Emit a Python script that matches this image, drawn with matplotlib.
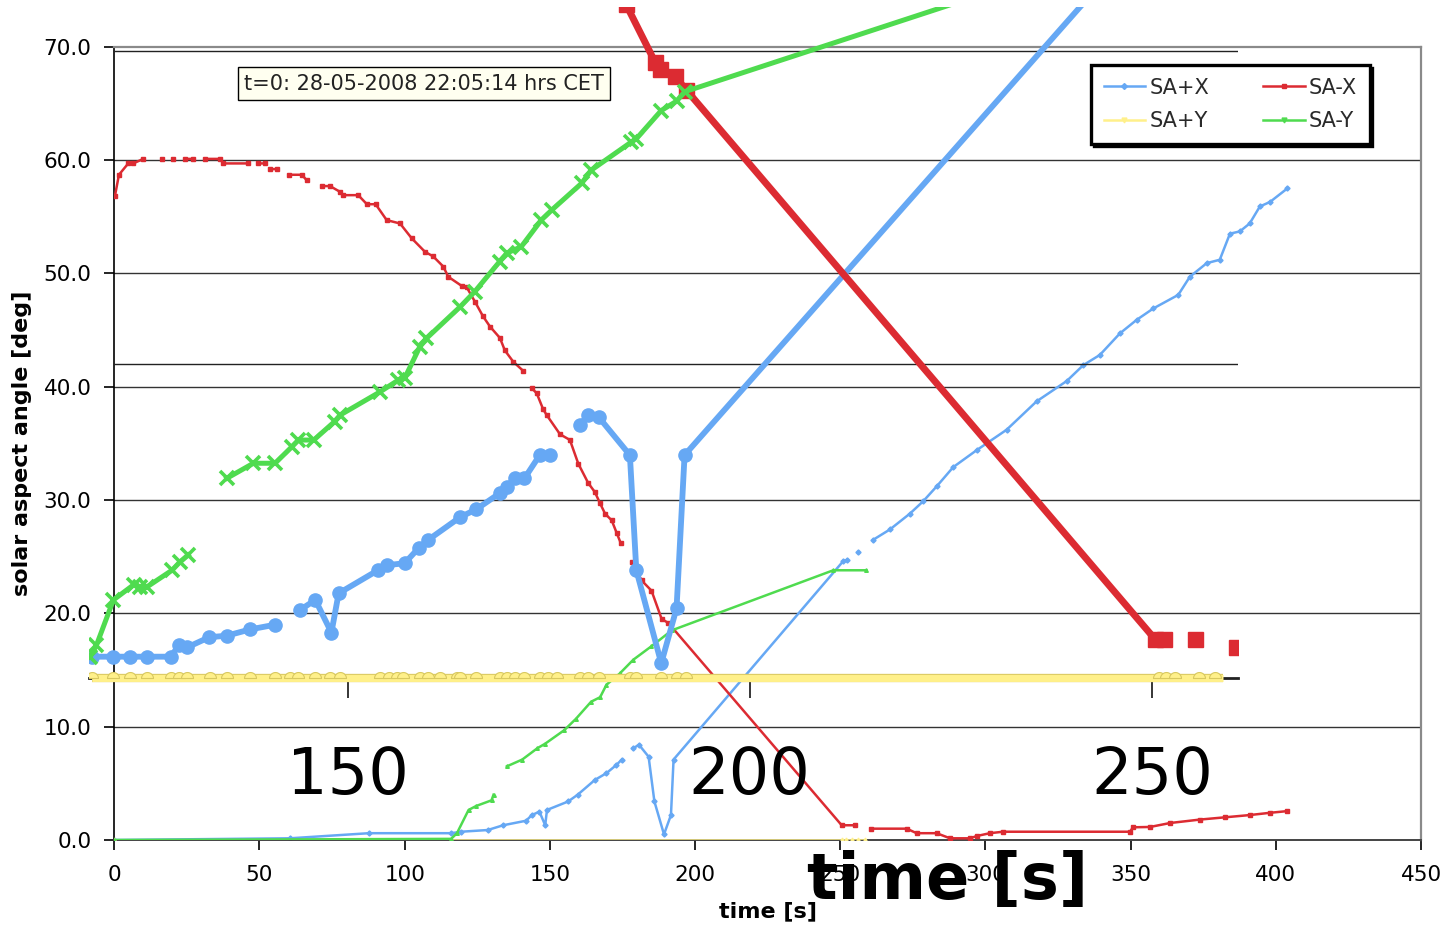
import numpy as np
import matplotlib
matplotlib.use("Agg")
import matplotlib.pyplot as plt
from matplotlib.lines import Line2D
from matplotlib.path import Path
import matplotlib.patheffects as pe

nan = np.nan

# ---------------- main chart data: time [s] vs solar aspect angle [deg] ----------------
sapx_t = [0, 60.5, 87.7, 116, 119.4, 128.6, 133.9, 141.8, 143.8, 146.4, 148.4, 149, 156.3, 159.6,
          165.5, 169.5, 172.8, 174.8, nan, 178.7, 180.7, 184, 186, 189.3, 191.7, 192.6, 251, 252.2,
          nan, 256.2, nan, 261.4, 267.1, 274, 278.6, 283.2, 288.9, 297, 307.3, 317.6, 328, 333.7,
          339.4, 346.3, 352.1, 357.8, 366.4, 370.4, 376.2, 380.7, 384.2, 387.6, 391, 394.5, 398, 404]
sapx_v = [0, 0.15, 0.6, 0.6, 0.73, 0.88, 1.3, 1.7, 2.2, 2.5, 1.3, 2.65, 3.4, 4.0,
          5.3, 5.9, 6.6, 7.1, nan, 8.1, 8.4, 7.35, 3.4, 0.5, 2.2, 7.1, 24.6, 24.7,
          nan, 25.4, nan, 26.5, 27.4, 28.8, 29.9, 31.2, 32.9, 34.4, 36.2, 38.7, 40.5, 41.9,
          42.8, 44.7, 45.9, 46.9, 48.1, 49.7, 50.9, 51.2, 53.5, 53.7, 54.4, 55.9, 56.3, 57.5]

samx_t = [0.2, 1.6, 4.8, 6.5, 10, nan, 16.3, nan, 20.3, nan, 24.4, 27, nan, 31.2, 36.4, nan,
          37.5, 45.9, nan, 49.5, 52, nan, 53.7, 56, nan, 60, 64.6, 66.3, nan, 71.5, 74.3, 77.7,
          78.8, 84, 87, 90, 93.8, 98.4, 102.4, 107, 109.8, 113.3, 115, 119.6, 121.3, 124.2, 127,
          129.4, 132.8, 134.5, 137.4, 140.8, nan, 143.7, 145.5, 147.7, 148.9, 153.5, 156.9, 159.8,
          163.2, 165.5, 167.3, 169, 171.3, 173, 174.4, nan, 178.4, 181.6, 185, 188.5, 190.8, 250.5,
          255, nan, 260.5, 272.9, 276.3, 283.2, 287.8, 294.7, 297, 301.5, 306.1, 349.8, 350.8,
          356.7, 363.6, 373.8, 382.4, 391, 398, 404]
samx_v = [56.8, 58.7, 59.7, 59.7, 60.1, nan, 60.1, nan, 60.1, nan, 60.1, 60.1, nan, 60.1, 60.1, nan,
          59.7, 59.7, nan, 59.7, 59.7, nan, 59.2, 59.2, nan, 58.7, 58.7, 58.2, nan, 57.7, 57.7, 57.2,
          56.9, 56.9, 56.1, 56.1, 54.7, 54.4, 53.1, 51.9, 51.5, 50.6, 49.7, 48.9, 48.8, 47.5, 46.2,
          45.3, 44.3, 43.2, 42.2, 41.4, nan, 39.9, 39.4, 38.0, 37.5, 35.8, 35.3, 33.2,
          31.5, 30.7, 29.7, 28.8, 28.2, 27.1, 26.2, nan, 24.5, 22.9, 22.0, 19.5, 19.15, 1.3,
          1.3, nan, 1.0, 1.0, 0.6, 0.6, 0.15, 0.15, 0.35, 0.6, 0.73, 0.73, 1.12,
          1.15, 1.5, 1.8, 2.0, 2.2, 2.4, 2.55]

sapy_t = [0, 250.5, 252, 254, 256, 258.5]
sapy_v = [0, 0, 0, 0, 0, 0]

samy_t = [0, 116, 118, 122, 124.6, 129.9, 130.6, nan, 135.2, 140.5, 145.7, 148.4, 155, 159, 164.2,
          167.3, 169.5, 174.1, 178.7, 185, 192, 247.6, 259]
samy_v = [0, 0.1, 0.6, 2.65, 3.0, 3.5, 4.0, nan, 6.5, 7.1, 8.1, 8.5, 9.7, 10.7, 12.2,
          12.6, 13.7, 14.7, 15.9, 17.1, 18.5, 23.8, 23.8]

# ---------------- enlarged overlay data (time [s], angle [deg]) ----------------
z_sapx_t = [118.2, 120.9, 123.0, 125.1, 128.0, 129.1, 130.1, 132.8, 135.0, 137.9, 141.0, nan,
            144.1, 146.0, 148.0, 148.9, 153.8, 154.9, 157.1, 158.9, 160.0, 164.0, 166.0, 168.9,
            169.8, 170.8, 172.0, 173.9, 175.2, nan, 178.9, 179.9, 181.2, 185.1, 185.9, 189.0,
            190.9, 191.9, 245.0]
z_sapx_v = [0.68, 0.68, 0.68, 0.68, 0.68, 1.05, 0.98, 1.3, 1.35, 1.55, 1.7, nan,
            2.17, 2.49, 1.45, 2.7, 3.44, 3.6, 3.66, 4.16, 4.4, 5.13, 5.38, 5.89,
            6.1, 6.37, 6.37, 7.11, 7.11, nan, 8.07, 8.39, 8.33, 7.11, 3.44, 0.47,
            2.22, 7.11, 22.55]

z_samx_t = [184.6, 188.2, 188.9, 190.7, 192.1, 250.4, 251.5, nan, 255.4, nan, 260.5]
z_samx_v = [21.5, 19.66, 19.43, 19.19, 18.76, 1.23, 1.23, nan, 1.23, nan, 0.99]

z_sapy_t = [118.2, 120.9, 123.0, 125.1, 128.0, 129.0, 130.0, 132.9, 135.0, 137.9, 141.0, 142.9,
            143.9, 146.0, 147.8, 149.1, 154.0, 155.1, 156.1, 156.9, 159.0, 160.0, 161.5, 163.6,
            164.0, 166.0, 168.9, 169.8, 170.8, 172.0, 173.9, 174.9, 176.0, 178.9, 179.9, 181.2,
            185.1, 185.9, 189.0, 190.9, 192.1, 250.9, 251.8, 252.8, 255.9, 257.8]
z_sapy_v = [0.0] * len(z_sapy_t)
z_sapy_end = 258.8

z_samy_t = [118.0, 118.8, 120.9, 123.4, 124.2, 125.1, 128.2, 129.2, 130.2, nan,
            135.0, 138.3, 141.0, 143.1, 143.9, 145.8, 148.4, 149.1, 154.0, 156.3, 157.1, 159.0,
            159.8, 164.0, 165.8, 168.9, 169.8, 171.6, 174.1, 175.4, 179.1, 180.3, 185.3, 185.9,
            189.0, 190.9, 191.9, 230.0]
z_samy_v = [0.68, 1.05, 2.49, 2.97, 2.91, 2.91, 3.44, 3.71, 3.92, nan,
            6.37, 6.85, 6.85, 7.38, 7.59, 7.59, 8.18, 8.39, 9.12, 9.5, 9.56, 10.57,
            10.83, 11.84, 12.32, 13.28, 13.55, 13.76, 14.61, 14.93, 15.78, 16.2, 17.1, 17.2,
            18.1, 18.4, 18.7, 21.9]

series_names = ["SA+X", "SA-X", "SA+Y", "SA-Y"]
x_ticks = [0, 50, 100, 150, 200, 250, 300, 350, 400, 450]
y_ticks = [0, 10, 20, 30, 40, 50, 60, 70]
zoom_ticks = [150, 200, 250]
note = "t=0: 28-05-2008 22:05:14 hrs CET"

# ---------------- styles ----------------
C_BLUE = "#66a8f4"
C_RED = "#dc2b32"
C_YEL = "#fff08a"
C_GRN = "#4fdb4f"

plt.rcParams["font.family"] = ["DejaVu Sans"]

W, H = 1446, 926
fig = plt.figure(figsize=(W / 100, H / 100), dpi=100)
fig.patch.set_facecolor("white")

def rect(x0, y0, x1, y1):
    return [x0 / W, (H - y1) / H, (x1 - x0) / W, (y1 - y0) / H]

# ---------------- main axes ----------------
ax = fig.add_axes(rect(114.3, 46.7, 1421, 840))
ax.set_xlim(0, 450)
ax.set_ylim(0, 70)
ax.set_xticks(x_ticks)
ax.set_yticks(y_ticks)
ax.set_yticklabels([f"{v:.1f}" for v in y_ticks])
ax.tick_params(axis="both", direction="out", length=7, width=1.2, labelsize=15.5, colors="black")
ax.tick_params(axis="y", pad=9.5)
ax.tick_params(axis="x", pad=11)
for yv in y_ticks[1:-1]:
    ax.axhline(yv, color="#333333", lw=1.0, zorder=0.5)
ax.spines["top"].set_color("#8a8a8a")
ax.spines["top"].set_linewidth(1.6)
ax.spines["right"].set_color("#8a8a8a")
ax.spines["right"].set_linewidth(1.6)
ax.spines["left"].set_color("black")
ax.spines["left"].set_linewidth(1.2)
ax.spines["bottom"].set_color("#444444")
ax.spines["bottom"].set_linewidth(1.4)

ax.plot(sapx_t, sapx_v, color=C_BLUE, lw=1.8, marker="D", ms=2.6, zorder=2)
ax.plot(samx_t, samx_v, color=C_RED, lw=1.8, marker="s", ms=3.2, zorder=3)
ax.plot(sapy_t, sapy_v, color=C_YEL, lw=1.8, marker="^", ms=3.5, zorder=4)
ax.plot(samy_t, samy_v, color=C_GRN, lw=1.8, marker="^", ms=2.6, zorder=5)

ax.set_ylabel("solar aspect angle [deg]", fontsize=16, fontweight="bold", va="center")
ax.yaxis.set_label_coords(-0.0706, 0.5)
ax.set_xlabel("time [s]", fontsize=16, fontweight="bold", va="center")
ax.xaxis.set_label_coords(0.5, -0.0895)

ax.text(0.237, 0.9536, note, transform=ax.transAxes, fontsize=15, ha="center", va="center",
        color="#222222",
        bbox=dict(boxstyle="square,pad=0.3", facecolor="#fffff0", edgecolor="black", lw=1.0),
        zorder=10)

# ---------------- enlarged overlay axes ----------------
zx0, zy0, zx1, zy1 = 89, 7, 1238, 700
ax2 = fig.add_axes(rect(zx0, zy0, zx1, zy1))
ax2.patch.set_alpha(0)
t_left = 150 + (zx0 - 347.5) / 8.045
t_right = 150 + (zx1 - 347.5) / 8.045
v_bot = (678 - zy1) / 31.35
v_top = (678 - zy0) / 31.35
ax2.set_xlim(t_left, t_right)
ax2.set_ylim(v_bot, v_top)
for s in ["top", "left", "right"]:
    ax2.spines[s].set_visible(False)
ax2.spines["bottom"].set_position(("data", 0))
ax2.spines["bottom"].set_linewidth(2.0)
ax2.spines["bottom"].set_color("#222222")
ax2.set_yticks([])
ax2.set_xticks(zoom_ticks)
ax2.tick_params(axis="x", direction="out", length=14.4, width=1.1, labelsize=46, pad=34,
                colors="black")
gx = (114.3 - zx0) / (zx1 - zx0)
for yv in [10, 20]:
    ax2.axhline(yv, xmin=gx, xmax=1, color="#222222", lw=1.0, zorder=0.5)

ax2.plot(z_sapx_t, z_sapx_v, color=C_BLUE, lw=4.2, marker="o", ms=9.5, zorder=2)
ax2.plot(z_samx_t, z_samx_v, color=C_RED, lw=5.0, marker="s", ms=10.8, zorder=3)
theta = np.linspace(0, np.pi, 25)
bump = Path(np.vstack([np.column_stack([np.cos(theta), np.sin(theta)]), [[1, 0]]]), closed=True)
ax2.plot(list(z_sapy_t) + [z_sapy_end], list(z_sapy_v) + [0.0], color=C_YEL, lw=5.0,
         solid_capstyle="butt", zorder=4,
         path_effects=[pe.Stroke(linewidth=6.0, foreground="#ddcc66"), pe.Normal()])
ax2.plot(z_sapy_t, z_sapy_v, ls="none", marker=bump, ms=8.6, color=C_YEL,
         markeredgecolor="#d8c860", markeredgewidth=0.8, zorder=4.1)
ax2.plot(z_samy_t, z_samy_v, color=C_GRN, lw=3.6, marker="x", ms=10, mew=2.6, zorder=5)

ax2.set_xlabel("time [s]", fontsize=46, fontweight="bold", va="center")
ax2.xaxis.set_label_coords((948 - zx0) / (zx1 - zx0), -(881 - zy1) / (zy1 - zy0))

# ---------------- legend ----------------
handles = [Line2D([], [], color=C_BLUE, lw=1.8, marker="D", ms=3),
           Line2D([], [], color=C_YEL, lw=1.8, marker="v", ms=3.5),
           Line2D([], [], color=C_RED, lw=1.8, marker="s", ms=3.5),
           Line2D([], [], color=C_GRN, lw=1.8, marker="v", ms=3.5)]
labels = [series_names[0], series_names[2], series_names[1], series_names[3]]
leg = fig.legend(handles, labels, ncol=2, loc="upper left",
                 bbox_to_anchor=(1091 / W, 1 - 65 / H), borderaxespad=0, fontsize=15,
                 frameon=True, fancybox=False, edgecolor="black", framealpha=1,
                 handlelength=2.0, handletextpad=0.2, columnspacing=2.6, labelspacing=0.65,
                 borderpad=0.6, shadow={"color": "black", "alpha": 1})
leg.get_frame().set_linewidth(2.4)
for t in leg.get_texts():
    t.set_color("#2a2a2a")

fig.savefig("out.png", dpi=100, facecolor="white")
